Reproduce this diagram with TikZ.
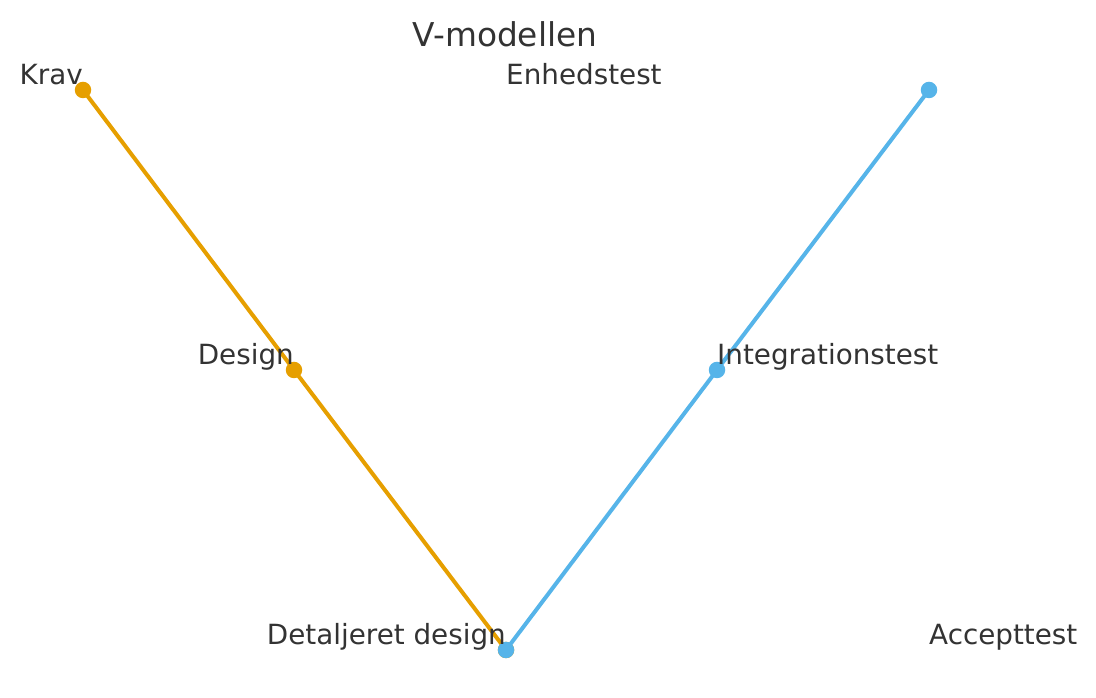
\documentclass[tikz,border=0pt]{standalone}
\usepackage{fontspec}
\setmainfont{DejaVu Sans}
\usetikzlibrary{calc}
\definecolor{vorange}{HTML}{E69F00}
\definecolor{vblue}{HTML}{56B4E9}
\definecolor{vtext}{HTML}{333333}
\tikzstyle{every node}=[font=\fontsize{27.8}{33}\selectfont,text=vtext,inner sep=0pt]
\tikzstyle{every path}=[line cap=round,line join=round]
\tikzstyle{leftleg}=[draw=vorange,line width=4pt]
\tikzstyle{rightleg}=[draw=vblue,line width=4pt]
\tikzstyle{vmark}=[circle,minimum size=16.5pt]

\begin{document}
\begin{tikzpicture}[x=1pt,y=1pt]
    \useasboundingbox (0,0) rectangle (1096,698);

    % points of the V
    \coordinate (Krav) at (83,608);
    \coordinate (Design) at (294,328);
    \coordinate (Detail) at (506,48);
    \coordinate (Integ) at (717,328);
    \coordinate (Accept) at (929,608);

    % title
    \node [anchor=base,font=\fontsize{32.8}{38}\selectfont,name=title] at (505,651) {V-modellen};

    % left leg (specification)
    \draw [leftleg] (Krav) -- (Design) -- (Detail);
    \foreach \p in {Krav,Design,Detail}
        \node [vmark,fill=vorange] at (\p) {};

    % right leg (test)
    \draw [rightleg] (Detail) -- (Integ) -- (Accept);
    \foreach \p in {Detail,Integ,Accept}
        \node [vmark,fill=vblue] at (\p) {};

    % labels
    \node [anchor=base east,name=lkrav] at ($(Krav)+(0,5)$) {Krav};
    \node [anchor=base east,name=ldesign] at ($(Design)+(0,5)$) {Design};
    \node [anchor=base east,name=ldetail] at ($(Detail)+(0,5)$) {Detaljeret design};
    \node [anchor=base west,name=lunit] at ($(Detail)+(0,565)$) {Enhedstest};
    \node [anchor=base west,name=linteg] at ($(Integ)+(0,5)$) {Integrationstest};
    \node [anchor=base west,name=laccept] at ($(Accept)+(0,-555)$) {Accepttest};
\end{tikzpicture}
\end{document}
